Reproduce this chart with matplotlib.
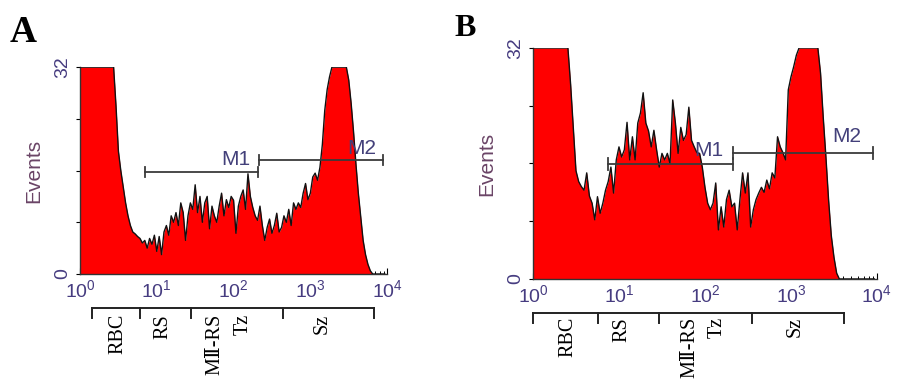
import numpy as np
import matplotlib
matplotlib.use("Agg")
import matplotlib.pyplot as plt
from matplotlib.transforms import blended_transform_factory
from matplotlib.ticker import LogLocator, FixedLocator

plt.rcParams['font.family'] = ['Liberation Sans', 'DejaVu Sans']

# Histogram channels: 32 per decade over 10^0 .. 10^4 (128 channels)
n_per_decade = 32
edges = np.logspace(0, 4, 4 * n_per_decade + 1)

# Panel A counts (clipped at 32 like the original display)
counts_a = [
    32, 32, 32, 32, 32, 32, 32, 32, 32, 32, 32, 32, 32, 32, 32, 26,
    19, 16, 13.5, 11, 9, 7.5, 6.5, 6.2, 5.8, 5.5, 4.8, 5.2, 4.0, 5.5, 4.6, 6.0,
    3.5, 5.8, 3.0, 6.5, 7.5, 6.0, 9.0, 8.0, 9.5, 7.5, 11.0, 9.5, 5.2, 9.0, 11.0, 10.0,
    13.8, 9.5, 12.0, 8.0, 11.0, 12.0, 7.0, 10.5, 9.0, 8.0, 10.5, 12.5, 9.0, 11.5, 10.3, 12.0,
    11.4, 6.3, 10.5, 12.0, 13.0, 10.0, 15.5, 12.0, 10.3, 9.0, 8.3, 10.5, 7.5, 5.2, 7.2, 8.5,
    6.3, 7.5, 9.4, 6.5, 7.2, 9.0, 8.0, 10.0, 7.5, 11.0, 10.0, 11.0, 10.3, 12.5, 14.0, 11.5,
    12.5, 15.0, 15.6, 14.5, 16.5, 20.0, 25.3, 28.5, 30.5, 32, 32, 32, 32, 32, 32, 32,
    30, 26.4, 22, 17, 12.5, 8.8, 5.2, 3.0, 1.5, 0.5, 0, 0, 0, 0, 0, 0,
]

# Panel B counts
counts_b = [
    32, 32, 32, 32, 32, 32, 32, 32, 32, 32, 32, 32, 32, 32, 27, 21,
    15, 13.5, 12.8, 12.3, 14.7, 11.5, 10.5, 8.2, 11.4, 9.1, 10.5, 12.3, 13.5, 15.5, 11.9, 16.5,
    18.3, 16.9, 17.9, 21.7, 16.5, 19.7, 16.5, 21.6, 23.0, 25.8, 21.6, 20.5, 18.3, 20.6, 17.9, 15.5,
    17.4, 16.5, 17.4, 16.0, 24.8, 21.6, 17.4, 21.0, 19.2, 20.0, 23.8, 19.2, 18.3, 17.5, 17.4, 15.5,
    12.7, 10.5, 9.6, 10.5, 13.3, 6.8, 10.0, 7.2, 11.0, 12.3, 10.0, 10.5, 6.8, 11.0, 14.7, 11.9,
    14.7, 7.2, 9.6, 11.0, 11.9, 12.7, 12.0, 13.7, 12.5, 14.7, 14.0, 19.7, 18.3, 17.5, 16.5, 26.2,
    28.0, 29.4, 31.0, 32, 32, 32, 32, 32, 32, 32, 32, 28.5, 22.4, 16.9, 10.9, 6.0,
    3.0, 0.8, 0, 0, 0, 0, 0, 0, 0, 0, 0, 0, 0, 0, 0, 0,
]

# Markers (start, end, level)
markers_a = {'M1': (7.0, 209, 15.8), 'M2': (212, 8900, 17.6)}
markers_b = {'M1': (7.4, 212, 15.9), 'M2': (212, 8900, 17.45)}

# Cell population gates under the x axis
gate_edges_a = [1.43, 6.0, 27.9, 442, 6760]
gate_edges_b = [1.0, 5.7, 29.2, 352, 4130]
gate_names = ['RBC', 'RS', 'MⅡ-RS', 'Tz', 'Sz']
gate_text_x_a = [3.13, 12.1, 57.4, 133, 1422]
gate_text_x_b = [2.55, 10.8, 67, 138, 1114]

tick_col = '#463c80'
label_col = '#6a4466'
marker_txt_col = '#43407a'

fig = plt.figure(figsize=(8.98, 3.79), dpi=100)

ax_a = fig.add_axes([0.0891, 0.277, 0.342, 0.546])
ax_b = fig.add_axes([0.5935, 0.2639, 0.3831, 0.6095])

# channel left edges, so the trace starts at 10^0
x_chan = edges[:-1]


def draw_panel(ax, counts, markers, m_text, gates, text_x, y_bracket, y_text):
    ax.fill_between(x_chan, counts, 0, color='#ff0000', linewidth=0, zorder=2)
    ax.plot(x_chan, counts, color='#111111', linewidth=1.0, zorder=3)
    ax.set_xscale('log')
    ax.set_xlim(1, 1e4)
    ax.set_ylim(0, 32)
    for s in ['top', 'right']:
        ax.spines[s].set_visible(False)
    for s in ['left', 'bottom']:
        ax.spines[s].set_color('#333333')
        ax.spines[s].set_linewidth(1.0)
    ax.xaxis.set_major_locator(LogLocator(base=10, numticks=10))
    ax.xaxis.set_minor_locator(LogLocator(base=10, subs=np.arange(2, 10), numticks=10))
    ax.tick_params(axis='x', which='major', direction='in', length=4, width=0.8,
                   labelsize=14, labelcolor=tick_col, pad=4)
    ax.tick_params(axis='x', which='minor', direction='in', length=2.5, width=0.7)
    ax.yaxis.set_major_locator(FixedLocator([0, 8, 16, 24, 32]))
    ax.set_yticklabels(['0', '', '', '', '32'], rotation=90, va='center')
    ax.tick_params(axis='y', direction='out', length=3, width=0.8,
                   labelsize=14, labelcolor=tick_col, pad=3)
    ax.set_ylabel('Events', fontsize=15, color=label_col, labelpad=8)

    # marker bars
    for name, (x0, x1, y) in markers.items():
        ax.plot([x0, x1], [y, y], color='#3a3a3a', lw=1.3, zorder=4)
        ax.plot([x0, x0], [y - 0.8, y + 0.8], color='#3a3a3a', lw=1.3, zorder=4)
        ax.plot([x1, x1], [y - 0.8, y + 0.8], color='#3a3a3a', lw=1.3, zorder=4)
        tx, ty = m_text[name]
        ax.text(tx, ty, name, fontsize=15, color=marker_txt_col, ha='left',
                va='bottom', zorder=5)

    # gate brackets below the axis
    tr = blended_transform_factory(ax.transData, fig.transFigure)
    ax.plot([gates[0], gates[-1]], [y_bracket, y_bracket], color='#222222',
            lw=1.4, transform=tr, clip_on=False)
    for g in gates:
        ax.plot([g, g], [y_bracket, y_bracket - 0.025], color='#222222',
                lw=1.4, transform=tr, clip_on=False)
    for name, x in zip(gate_names, text_x):
        ax.text(x, y_text, name, rotation=90, ha='center', va='top',
                fontsize=14.5, transform=tr, family=['Liberation Serif', 'DejaVu Serif'])


draw_panel(ax_a, counts_a, markers_a,
           {'M1': (70, 16.3), 'M2': (3000, 17.9)},
           gate_edges_a, gate_text_x_a, 0.187, 0.172)
draw_panel(ax_b, counts_b, markers_b,
           {'M1': (75, 16.5), 'M2': (3000, 18.4)},
           gate_edges_b, gate_text_x_b, 0.174, 0.164)

fig.text(0.011, 0.89, 'A', fontsize=27, fontweight='bold', family='Liberation Serif')
fig.text(0.506, 0.905, 'B', fontsize=23, fontweight='bold', family='Liberation Serif')

fig.savefig('out.png', dpi=100)
